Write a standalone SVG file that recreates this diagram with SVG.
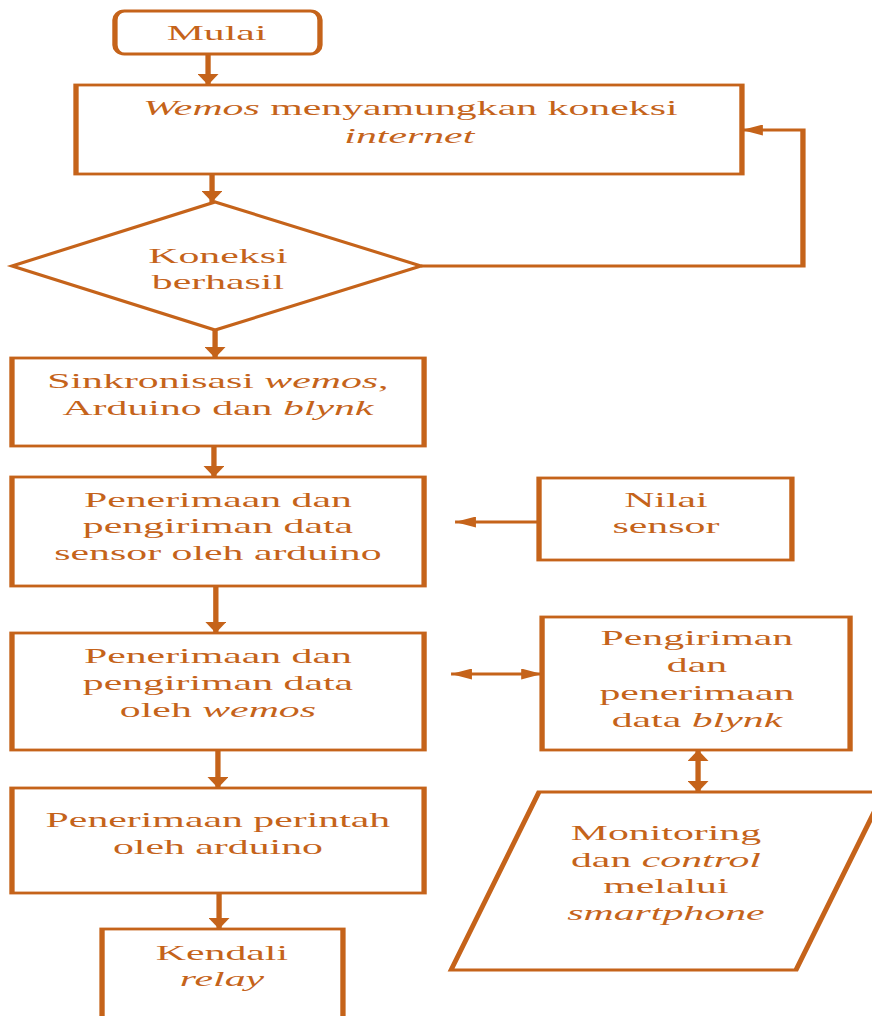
<svg xmlns="http://www.w3.org/2000/svg" width="872" height="1016" viewBox="0 0 872 1016">
<style>
.n{fill:#fff;stroke:#C5631A;stroke-width:2.8;stroke-linejoin:miter}
.c{fill:none;stroke:#C5631A;stroke-width:2.8}
.t{font-family:"Liberation Serif","Times New Roman",serif;font-size:22px;fill:#C5631A;text-anchor:middle}
.i{font-style:italic}
</style>
<defs>
<marker id="ah" viewBox="0 0 10 10" markerUnits="userSpaceOnUse" markerWidth="11" markerHeight="11" refX="10" refY="5" orient="auto-start-reverse">
<path d="M0,0 L10,5 L0,10 Z" fill="#C5631A"/>
</marker>
</defs>
<rect width="872" height="1016" fill="#fff"/>
<g transform="scale(1.9 1)">
<g id="connectors">
<path class="c" d="M109.5,54 V85" marker-end="url(#ah)"/>
<path class="c" d="M111.6,174 V202" marker-end="url(#ah)"/>
<path class="c" d="M221.6,266 H422.6 V130 H390.5" marker-end="url(#ah)"/>
<path class="c" d="M113.2,330 V358" marker-end="url(#ah)"/>
<path class="c" d="M112.6,446 V477" marker-end="url(#ah)"/>
<path class="c" d="M283.7,522 H239.5" marker-end="url(#ah)"/>
<path class="c" d="M113.6,586 V633" marker-end="url(#ah)"/>
<path class="c" d="M237.4,674 H285.3" marker-start="url(#ah)" marker-end="url(#ah)"/>
<path class="c" d="M367.4,750 V792" marker-start="url(#ah)" marker-end="url(#ah)"/>
<path class="c" d="M114.7,750 V788" marker-end="url(#ah)"/>
<path class="c" d="M115.3,893 V929" marker-end="url(#ah)"/>
</g>
<g id="mulai">
<rect class="n" x="60.5" y="11" width="107.9" height="43" rx="5" ry="9"/>
<text class="t" x="114" y="40">Mulai</text>
</g>
<g id="wemos-koneksi">
<rect class="n" x="40" y="85" width="350.5" height="89"/>
<text class="t" x="215.9" y="115"><tspan class="i">Wemos</tspan> menyamungkan koneksi</text>
<text class="t i" x="215.4" y="143">internet</text>
</g>
<g id="koneksi-berhasil">
<polygon class="n" points="113.2,202 221.6,266 113.2,330 6.3,266"/>
<text class="t" x="114.7" y="263">Koneksi</text>
<text class="t" x="114.7" y="289">berhasil</text>
</g>
<g id="sinkronisasi">
<rect class="n" x="6.3" y="358" width="216.9" height="88"/>
<text class="t" x="114.7" y="388">Sinkronisasi <tspan class="i">wemos</tspan>,</text>
<text class="t" x="114.7" y="415">Arduino dan <tspan class="i">blynk</tspan></text>
</g>
<g id="penerimaan-sensor">
<rect class="n" x="6.3" y="477" width="216.9" height="109"/>
<text class="t" x="114.7" y="507">Penerimaan dan</text>
<text class="t" x="114.7" y="533">pengiriman data</text>
<text class="t" x="114.7" y="560">sensor oleh arduino</text>
</g>
<g id="nilai-sensor">
<rect class="n" x="283.7" y="478" width="133.1" height="82"/>
<text class="t" x="350.5" y="507">Nilai</text>
<text class="t" x="350.5" y="533">sensor</text>
</g>
<g id="penerimaan-wemos">
<rect class="n" x="6.3" y="633" width="216.9" height="117"/>
<text class="t" x="114.7" y="663">Penerimaan dan</text>
<text class="t" x="114.7" y="690">pengiriman data</text>
<text class="t" x="114.7" y="717">oleh <tspan class="i">wemos</tspan></text>
</g>
<g id="pengiriman-blynk">
<rect class="n" x="285.3" y="617" width="162.1" height="133"/>
<text class="t" x="366.8" y="645">Pengiriman</text>
<text class="t" x="366.8" y="672">dan</text>
<text class="t" x="366.8" y="700">penerimaan</text>
<text class="t" x="366.8" y="727">data <tspan class="i">blynk</tspan></text>
</g>
<g id="monitoring">
<polygon class="n" points="283.7,792 465.3,792 418.9,970 237.4,970"/>
<text class="t" x="350.5" y="840">Monitoring</text>
<text class="t" x="350.5" y="867">dan <tspan class="i">control</tspan></text>
<text class="t" x="350.5" y="893">melalui</text>
<text class="t i" x="350.5" y="920">smartphone</text>
</g>
<g id="penerimaan-perintah">
<rect class="n" x="6.3" y="788" width="216.9" height="105"/>
<text class="t" x="114.7" y="827">Penerimaan perintah</text>
<text class="t" x="114.7" y="854">oleh arduino</text>
</g>
<g id="kendali-relay">
<rect class="n" x="53.7" y="929" width="126.8" height="95"/>
<text class="t" x="116.8" y="960">Kendali</text>
<text class="t i" x="116.8" y="986">relay</text>
</g>
</g>
</svg>
